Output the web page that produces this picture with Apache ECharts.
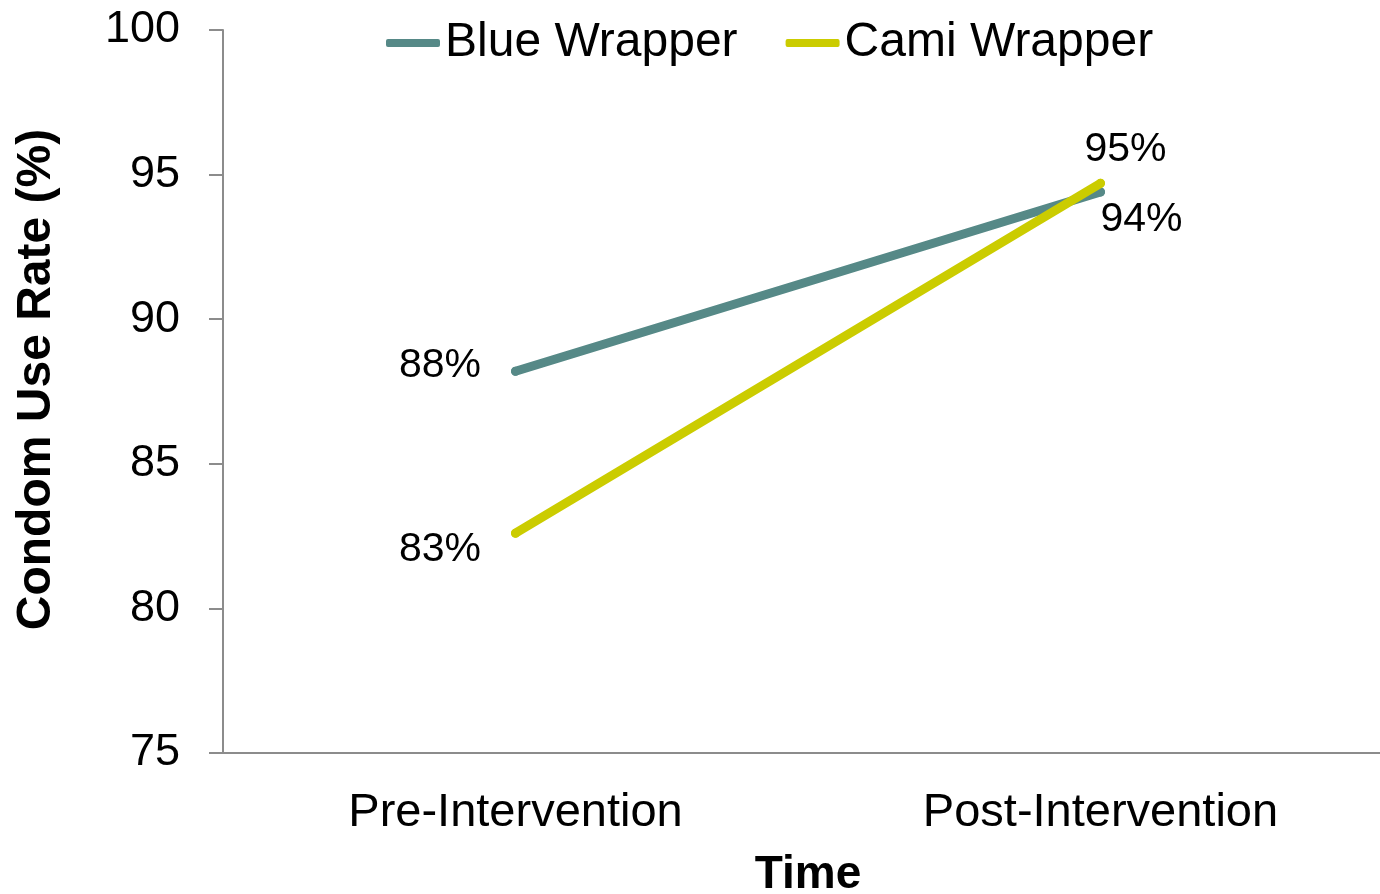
<!DOCTYPE html>
<html>
<head>
<meta charset="utf-8">
<title>Condom Use Rate</title>
<script src="https://cdn.jsdelivr.net/npm/echarts@6/dist/echarts.min.js"></script>
<style>
  html, body { margin: 0; padding: 0; background: #ffffff; }
  #chart { width: 1380px; height: 894px; }
</style>
</head>
<body>
<div id="chart"></div>
<script>
// Survey periods and condom use rate (%) per wrapper type
const categories = ['Pre-Intervention', 'Post-Intervention'];
const blueWrapper = [88.2, 94.4];
const camiWrapper = [82.6, 94.7];
const yTicks = { min: 75, max: 100, step: 5 };

const FONT = '"Liberation Sans", Arial, Helvetica, sans-serif';
const BLUE = '#568987';
const CAMI = '#cbcc00';
const AXIS = '#8c8c8c';

const pct = p => Math.round(p.value) + '%';

const chart = echarts.init(document.getElementById('chart'));
chart.setOption({
  backgroundColor: '#ffffff',
  animation: false,
  textStyle: { fontFamily: FONT, color: '#000' },
  legend: {
    left: 381,
    top: 14,
    icon: 'roundRect',
    itemWidth: 54,
    itemHeight: 8,
    itemGap: 48,
    textStyle: { fontFamily: FONT, fontSize: 48, color: '#000' },
    data: ['Blue Wrapper', 'Cami Wrapper']
  },
  grid: { left: 223, top: 30, width: 1170, height: 723, outerBoundsMode: 'none', containLabel: false },
  xAxis: {
    type: 'category',
    data: categories,
    boundaryGap: true,
    name: 'Time',
    nameLocation: 'middle',
    nameGap: 99,
    nameTextStyle: { fontFamily: FONT, fontSize: 46, fontWeight: 'bold', color: '#000' },
    axisLine: { lineStyle: { color: AXIS, width: 2 } },
    axisTick: { length: 14, lineStyle: { color: AXIS, width: 2 } },
    axisLabel: { margin: 37, fontFamily: FONT, fontSize: 47, color: '#000' }
  },
  yAxis: {
    type: 'value',
    min: yTicks.min,
    max: yTicks.max,
    interval: yTicks.step,
    name: 'Condom Use Rate (%)',
    nameLocation: 'middle',
    nameGap: 162,
    nameRotate: 90,
    nameTextStyle: { fontFamily: FONT, fontSize: 48, fontWeight: 'bold', color: '#000', padding: [0, 0, 0, 24] },
    splitLine: { show: false },
    axisLine: { show: true, lineStyle: { color: AXIS, width: 2 } },
    axisTick: { show: true, length: 14, lineStyle: { color: AXIS, width: 2 } },
    axisLabel: { margin: 43, fontFamily: FONT, fontSize: 45, color: '#000' }
  },
  series: [
    {
      name: 'Blue Wrapper',
      type: 'line',
      data: [
        { value: blueWrapper[0], label: { position: 'left', distance: 30, offset: [0, -6] } },
        { value: blueWrapper[1], label: { position: 'bottom', distance: 3, offset: [41, 0] } }
      ],
      symbol: 'circle',
      symbolSize: 9,
      itemStyle: { color: BLUE },
      lineStyle: { color: BLUE, width: 9, cap: 'round' },
      label: { show: true, formatter: pct, fontFamily: FONT, fontSize: 41, color: '#000' },
      z: 2
    },
    {
      name: 'Cami Wrapper',
      type: 'line',
      data: [
        { value: camiWrapper[0], label: { position: 'left', distance: 30, offset: [0, 16] } },
        { value: camiWrapper[1], label: { position: 'top', distance: 9, offset: [25, 0] } }
      ],
      symbol: 'circle',
      symbolSize: 9,
      itemStyle: { color: CAMI },
      lineStyle: { color: CAMI, width: 9, cap: 'round' },
      label: { show: true, formatter: pct, fontFamily: FONT, fontSize: 41, color: '#000' },
      z: 3
    }
  ]
});
</script>
</body>
</html>
